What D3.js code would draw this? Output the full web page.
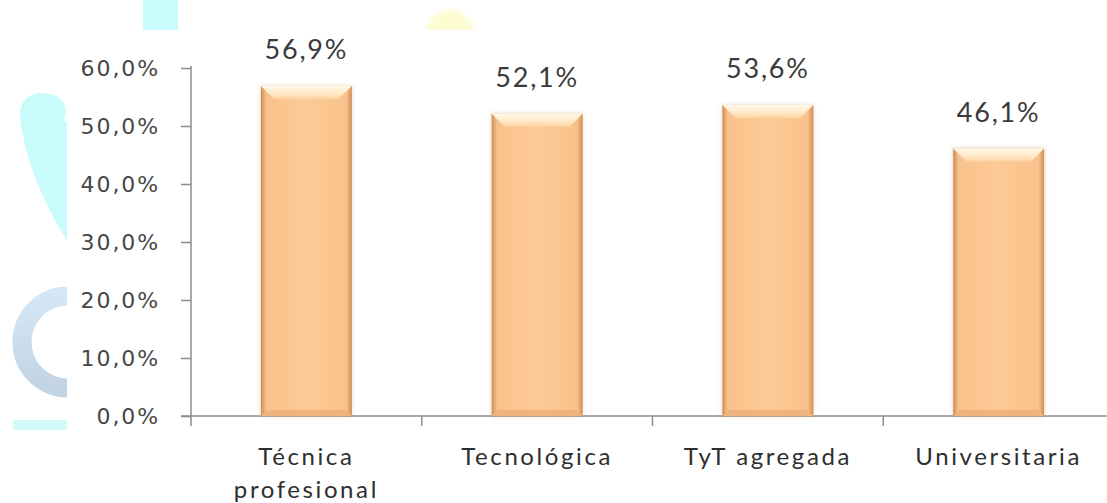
<!DOCTYPE html>
<html>
<head>
<meta charset="utf-8">
<script src="https://cdn.jsdelivr.net/npm/d3@7"></script>
<style>
  html, body { margin: 0; padding: 0; background: #fff; overflow: hidden; }
  svg { display: block; }
  .ytick { font-family: "DejaVu Sans"; }
</style>
</head>
<body>
<div id="chart"></div>
<script>
// chart values
const categories = ["Técnica\nprofesional", "Tecnológica", "TyT agregada", "Universitaria"];
const values = [56.9, 52.1, 53.6, 46.1];
const yTicks = [0, 10, 20, 30, 40, 50, 60];

const W = 1107, H = 503;
const fmt = d => d.toFixed(1).replace(".", ",") + "%";

const svg = d3.select("#chart")
    .append("svg")
    .attr("width", W)
    .attr("height", H);

const defs = svg.append("defs");

// bar body: darker towards the sides
const side = defs.append("linearGradient").attr("id", "barSide")
    .attr("x1", "0").attr("x2", "1").attr("y1", "0").attr("y2", "0");
side.append("stop").attr("offset", "0").attr("stop-color", "#d08c55");
side.append("stop").attr("offset", "0.06").attr("stop-color", "#f8c28c");
side.append("stop").attr("offset", "0.5").attr("stop-color", "#fdca95");
side.append("stop").attr("offset", "0.94").attr("stop-color", "#f8c28c");
side.append("stop").attr("offset", "1").attr("stop-color", "#d08c55");

const topBevel = defs.append("linearGradient").attr("id", "barTop")
    .attr("x1", "0").attr("x2", "0").attr("y1", "0").attr("y2", "1");
topBevel.append("stop").attr("offset", "0").attr("stop-color", "#fff8e8");
topBevel.append("stop").attr("offset", "0.6").attr("stop-color", "#ffe8c4");
topBevel.append("stop").attr("offset", "1").attr("stop-color", "#fdd2a2");

const ringGrad = defs.append("linearGradient").attr("id", "ringGrad")
    .attr("x1", "0").attr("x2", "0").attr("y1", "0").attr("y2", "1");
ringGrad.append("stop").attr("offset", "0").attr("stop-color", "#d4e7f7");
ringGrad.append("stop").attr("offset", "1").attr("stop-color", "#c2d4e2");

const glow = defs.append("filter").attr("id", "glow")
    .attr("x", "-20%").attr("y", "-20%").attr("width", "140%").attr("height", "140%");
glow.append("feGaussianBlur").attr("stdDeviation", 2.5);

const shadow = defs.append("filter").attr("id", "shadow")
    .attr("x", "-20%").attr("y", "-10%").attr("width", "140%").attr("height", "120%");
shadow.append("feGaussianBlur").attr("in", "SourceAlpha").attr("stdDeviation", 2).attr("result", "b");
shadow.append("feFlood").attr("flood-color", "#c88a55").attr("flood-opacity", 0.4);
shadow.append("feComposite").attr("in2", "b").attr("operator", "in").attr("result", "s");
const merge = shadow.append("feMerge");
merge.append("feMergeNode").attr("in", "s");
merge.append("feMergeNode").attr("in", "SourceGraphic");

// faded background shapes behind the chart area
const bg = svg.append("g");
bg.append("rect").attr("x", 143).attr("y", 0).attr("width", 35).attr("height", 32).attr("fill", "#c8fbfb");
bg.append("ellipse").attr("cx", 450).attr("cy", 32).attr("rx", 23).attr("ry", 22)
    .attr("fill", "#fdfbd0").attr("filter", "url(#glow)");
bg.append("path")
    .attr("d", "M42,93 C60,93 70,105 64,120 L70,125 L70,245 C44,205 26,162 20,118 C19,102 28,93 42,93 Z")
    .attr("fill", "#c8fbfb");
bg.append("circle").attr("cx", 68).attr("cy", 342).attr("r", 46)
    .attr("fill", "none").attr("stroke", "url(#ringGrad)").attr("stroke-width", 19);
bg.append("rect").attr("x", 13).attr("y", 420).attr("width", 60).attr("height", 10).attr("fill", "#d3fafa");

// white chart area
svg.append("rect").attr("x", 67).attr("y", 30).attr("width", W - 67).attr("height", H - 30).attr("fill", "#fff");

const x = d3.scaleBand()
    .domain(categories)
    .range([191, 1114])
    .paddingInner(0.606)
    .paddingOuter(0.303);

const y = d3.scaleLinear()
    .domain([0, 60])
    .range([416, 68]);

// y axis
const yAxis = svg.append("g")
    .attr("transform", "translate(191,0)")
    .call(d3.axisLeft(y).tickValues(yTicks).tickFormat(fmt).tickSize(10).tickSizeOuter(0).tickPadding(21));
yAxis.attr("font-family", null).attr("font-size", null);
yAxis.select(".domain").attr("stroke", "#8c8c8c").attr("stroke-width", 1.5)
    .attr("d", `M0,${y(60) - 2}V${y(0) + 10}`);
yAxis.selectAll(".tick line").attr("stroke", "#8c8c8c").attr("stroke-width", 1.5);
yAxis.selectAll(".tick text")
    .attr("class", "ytick")
    .attr("fill", "#474747")
    .attr("dy", "0.36em")
    .attr("font-size", 22)
    .attr("letter-spacing", 1.9);

// x axis line + boundary ticks
const step = x.step();
const bounds = categories.map(c => x(c) - step * x.paddingInner() / 2);
bounds.push(bounds[bounds.length - 1] + step);
const xAxis = svg.append("g");
xAxis.append("line")
    .attr("x1", 181).attr("x2", W)
    .attr("y1", y(0)).attr("y2", y(0))
    .attr("stroke", "#8c8c8c").attr("stroke-width", 1.5);
xAxis.selectAll(".xtick").data(bounds.slice(1))
    .enter().append("line")
    .attr("class", "xtick")
    .attr("x1", d => d).attr("x2", d => d)
    .attr("y1", y(0)).attr("y2", y(0) + 10)
    .attr("stroke", "#8c8c8c").attr("stroke-width", 1.5);

// bars
const bars = svg.selectAll(".bar")
    .data(values)
    .enter().append("g")
    .attr("class", "bar")
    .attr("filter", "url(#shadow)");

bars.append("rect")
    .attr("x", (d, i) => x(categories[i]))
    .attr("y", d => y(d))
    .attr("width", x.bandwidth())
    .attr("height", d => y(0) - y(d))
    .attr("fill", "url(#barSide)");

const bev = 13;
bars.append("path")
    .attr("d", (d, i) => {
        const x0 = x(categories[i]), x1 = x0 + x.bandwidth(), t = y(d);
        return `M${x0},${t}L${x1},${t}L${x1 - bev},${t + bev}L${x0 + bev},${t + bev}Z`;
    })
    .attr("fill", "url(#barTop)");

bars.append("path")
    .attr("d", (d, i) => {
        const x0 = x(categories[i]), x1 = x0 + x.bandwidth(), b = y(0);
        return `M${x0},${b}L${x1},${b}L${x1 - 6},${b - 6}L${x0 + 6},${b - 6}Z`;
    })
    .attr("fill", "#eeb37e");

// value labels
svg.selectAll(".val")
    .data(values)
    .enter().append("text")
    .attr("class", "val")
    .attr("x", (d, i) => x(categories[i]) + x.bandwidth() / 2)
    .attr("y", d => y(d) - 27)
    .attr("text-anchor", "middle")
    .attr("fill", "#3a3a3a")
    .style("font-family", "Lato, 'Open Sans', sans-serif")
    .style("font-size", "27px")
    .style("letter-spacing", "1.8px")
    .text(fmt);

// category labels
const cats = svg.selectAll(".cat")
    .data(categories)
    .enter().append("text")
    .attr("class", "cat")
    .attr("x", d => x(d) + x.bandwidth() / 2)
    .attr("y", 465)
    .attr("text-anchor", "middle")
    .attr("fill", "#2e2e2e")
    .style("font-family", "Lato, 'Open Sans', sans-serif")
    .style("font-size", "24px")
    .style("letter-spacing", "2.6px");

cats.selectAll("tspan")
    .data(d => d.split("\n"))
    .enter().append("tspan")
    .attr("x", function() { return d3.select(this.parentNode).attr("x"); })
    .attr("dy", (d, i) => i === 0 ? 0 : 33)
    .text(d => d);
</script>
</body>
</html>
